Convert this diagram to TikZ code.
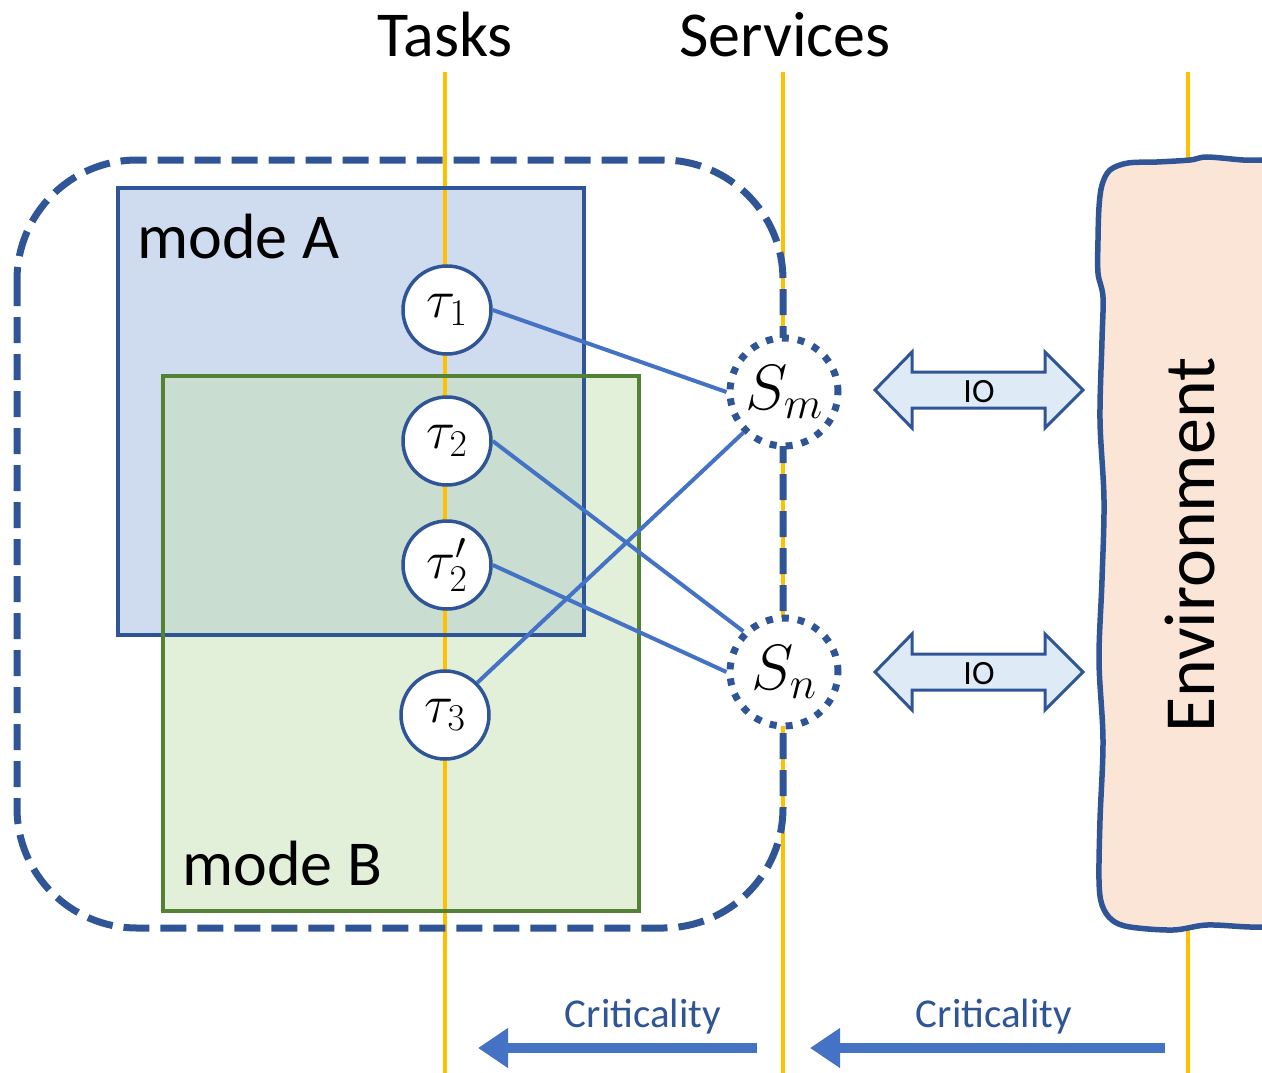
\RequirePackage{fix-cm}
\documentclass[tikz,border=0pt]{standalone}
\usepackage{fontspec}
\setmainfont{Carlito}
\usepackage{tikz}
\usetikzlibrary{arrows.meta}

\definecolor{laneorange}{HTML}{FFC000}
\definecolor{darkblue}{HTML}{2F5597}
\definecolor{linkblue}{HTML}{4472C4}
\definecolor{modeAfill}{HTML}{CFDBEE}
\definecolor{modeBfill}{HTML}{C5E0B4}
\definecolor{modeBline}{HTML}{548235}
\definecolor{iofill}{HTML}{DEEBF7}
\definecolor{envfill}{HTML}{FBE5D6}

\begin{document}
\begin{tikzpicture}[x=1pt,y=-1pt,
	lane/.style={line width=4.5pt, laneorange},
	task/.style={circle, draw=darkblue, line width=3.5pt, fill=white, minimum size=88pt, inner sep=0pt, font=\fontsize{54}{58}\selectfont},
	service/.style={circle, draw=darkblue, line width=7pt, dash pattern=on 7pt off 9pt, fill=white, minimum size=108pt, inner sep=0pt, font=\fontsize{64}{68}\selectfont},
	link/.style={line width=4pt, linkblue},
	crit/.style={line width=10pt, linkblue, -{Triangle[width=38pt,length=30pt]}},
	iobox/.style={line width=3pt, draw=darkblue, fill=iofill}]

	\useasboundingbox (0,0) rectangle (1262,1073);
	\clip (0,0) rectangle (1262,1073);

	% mode areas
	\fill[modeAfill] (118,188) rectangle (584,635);
	\fill[modeBfill, fill opacity=0.5] (163,376) rectangle (639,911);

	% lanes
	\node[font=\fontsize{64}{68}\selectfont] (tasks) at (445,35) {Tasks};
	\node[font=\fontsize{64}{68}\selectfont] (services) at (785,35) {Services};
	\draw[lane] (445,72) -- (445,1073);
	\draw[lane] (783,72) -- (783,1073);
	\draw[lane] (1188,72) -- (1188,1073);

	\draw[darkblue, line width=4.5pt] (118,188) rectangle (584,635);
	\draw[modeBline, line width=4.5pt] (163,376) rectangle (639,911);
	\node[anchor=base west, font=\fontsize{64}{68}\selectfont] (modeA) at (134,258) {mode A};
	\node[anchor=base west, font=\fontsize{64}{68}\selectfont] (modeB) at (179,885) {mode B};

	\draw[darkblue, line width=7pt, dash pattern=on 26pt off 11pt, rounded corners=120pt] (17,160) rectangle (783,928);

	% tasks and services
	\node[task] (t1) at (447,310) {$\tau_1$};
	\node[task] (t2) at (447,441) {$\tau_2$};
	\node[task] (t2p) at (447,565) {$\tau'_2$};
	\node[task] (t3) at (445,715) {$\tau_3$};
	\node[service] (sm) at (784,392) {$S_m$};
	\node[service] (sn) at (784,672) {$S_n$};

	\draw[link] (t1.east) -- (sm.west);
	\draw[link] (t2.east) -- (sn.135);
	\draw[link] (t2p.east) -- (sn.west);
	\draw[link] (t3.45) -- (sm.225);

	% environment
	\draw[darkblue, line width=5.5pt, fill=envfill] plot[smooth cycle, tension=0.55] coordinates {
		(1350,158) (1290,159) (1262,160) (1243,160) (1207,157) (1190,160) (1157,162) (1128,163)
		(1110,170) (1102,185) (1099,207) (1098,240) (1098,273) (1103,297) (1102,340)
		(1100,420) (1104,500) (1102,580) (1099,660) (1103,740) (1100,820) (1099,880)
		(1102,905) (1112,920) (1130,927) (1173,930) (1207,925) (1250,927) (1290,927) (1350,927)};
	\node[rotate=90, font=\fontsize{72}{76}\selectfont] (env) at (1190,545) {Environment};

	% IO arrows
	\foreach \y in {390,672} {
		\draw[iobox] (875,\y) -- (912,\y-38) -- (912,\y-18) -- (1045,\y-18) -- (1045,\y-38)
			-- (1083,\y) -- (1045,\y+38) -- (1045,\y+18) -- (912,\y+18) -- (912,\y+38) -- cycle;
		\node[font=\fontsize{34}{36}\selectfont] (io\y) at (979,\y+2) {IO};
	}

	% criticality
	\coordinate (c1s) at (757,1048);
	\coordinate (c1e) at (478,1048);
	\coordinate (c2s) at (1165,1048);
	\coordinate (c2e) at (810,1048);
	\draw[crit] (c1s) -- (c1e);
	\draw[crit] (c2s) -- (c2e);
	\node[darkblue, font=\fontsize{41}{44}\selectfont] (crit1) at (643,1017) {Criticality};
	\node[darkblue, font=\fontsize{41}{44}\selectfont] (crit2) at (994,1017) {Criticality};

\end{tikzpicture}
\end{document}
